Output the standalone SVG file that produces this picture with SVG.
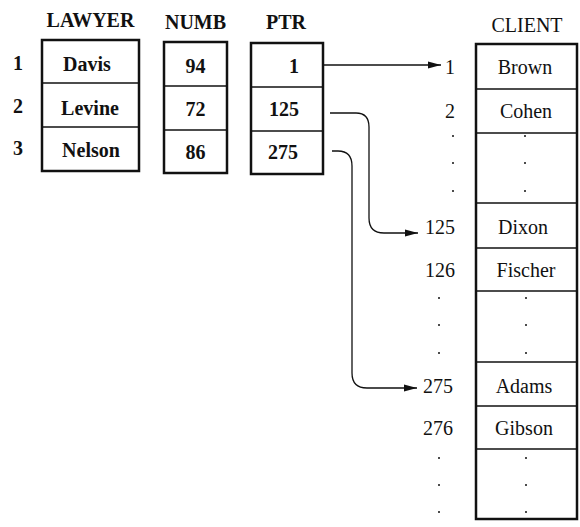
<svg xmlns="http://www.w3.org/2000/svg" width="580" height="527" viewBox="0 0 580 527">
<style>
text{font-family:"Liberation Serif","Times New Roman",serif;font-size:20px;fill:#111}
.b{font-weight:bold}
.m{text-anchor:middle}
.e{text-anchor:end}
.box{fill:#fff;stroke:#111;stroke-width:2.5}
.div{stroke:#111;stroke-width:1.5}
.con{fill:none;stroke:#111;stroke-width:1.3}
.dot{fill:#111}
</style>
<defs>
<marker id="ah" markerWidth="14" markerHeight="8" refX="13" refY="4" orient="auto" markerUnits="userSpaceOnUse">
<path d="M0,0.5 L13,4 L0,7.5 Z" fill="#111"/>
</marker>
</defs>
<rect width="580" height="527" fill="#fff"/>

<g id="lawyer">
<text class="b m" x="90.5" y="27">LAWYER</text>
<rect class="box" x="42" y="40" width="97" height="131"/>
<line class="div" x1="42" y1="83" x2="139" y2="83"/>
<line class="div" x1="42" y1="127" x2="139" y2="127"/>
<text class="b m" x="87" y="71">Davis</text>
<text class="b m" x="90" y="115">Levine</text>
<text class="b m" x="91" y="157">Nelson</text>
<text class="b" x="13" y="70">1</text>
<text class="b" x="13" y="113">2</text>
<text class="b" x="13" y="155">3</text>
</g>

<g id="numb">
<text class="b m" x="195.5" y="29">NUMB</text>
<rect class="box" x="164" y="42" width="63" height="131"/>
<line class="div" x1="164" y1="86" x2="227" y2="86"/>
<line class="div" x1="164" y1="130" x2="227" y2="130"/>
<text class="b m" x="195.5" y="73">94</text>
<text class="b m" x="195.5" y="116">72</text>
<text class="b m" x="195.5" y="159">86</text>
</g>

<g id="ptr">
<text class="b m" x="286" y="29">PTR</text>
<rect class="box" x="251" y="43" width="72" height="131"/>
<line class="div" x1="251" y1="87" x2="323" y2="87"/>
<line class="div" x1="251" y1="131" x2="323" y2="131"/>
<text class="b e" x="299" y="73">1</text>
<text class="b e" x="299" y="116">125</text>
<text class="b e" x="298" y="159">275</text>
</g>

<g id="client">
<text class="m" x="527" y="32">CLIENT</text>
<rect class="box" x="476" y="44" width="101" height="475"/>
<line class="div" x1="476" y1="89" x2="577" y2="89"/>
<line class="div" x1="476" y1="133" x2="577" y2="133"/>
<line class="div" x1="476" y1="203" x2="577" y2="203"/>
<line class="div" x1="476" y1="248" x2="577" y2="248"/>
<line class="div" x1="476" y1="291" x2="577" y2="291"/>
<line class="div" x1="476" y1="362" x2="577" y2="362"/>
<line class="div" x1="476" y1="406" x2="577" y2="406"/>
<line class="div" x1="476" y1="449" x2="577" y2="449"/>
<text class="m" x="525" y="74">Brown</text>
<text class="m" x="526" y="118">Cohen</text>
<text class="m" x="523" y="234">Dixon</text>
<text class="m" x="526" y="277">Fischer</text>
<text class="m" x="524" y="393">Adams</text>
<text class="m" x="524" y="435">Gibson</text>
<text class="e" x="455" y="74">1</text>
<text class="e" x="455" y="118">2</text>
<text class="e" x="455" y="234">125</text>
<text class="e" x="455" y="277">126</text>
<text class="e" x="453" y="393">275</text>
<text class="e" x="453" y="435">276</text>
<g class="dot">
<circle cx="453" cy="136" r="1"/><circle cx="453" cy="163" r="1"/><circle cx="453" cy="191" r="1"/>
<circle cx="525" cy="136" r="1"/><circle cx="525" cy="163" r="1"/><circle cx="525" cy="191" r="1"/>
<circle cx="439" cy="298" r="1"/><circle cx="439" cy="325" r="1"/><circle cx="439" cy="353" r="1"/>
<circle cx="526" cy="298" r="1"/><circle cx="526" cy="325" r="1"/><circle cx="526" cy="353" r="1"/>
<circle cx="439" cy="458" r="1"/><circle cx="439" cy="485" r="1"/><circle cx="439" cy="512" r="1"/>
<circle cx="526" cy="458" r="1"/><circle cx="526" cy="485" r="1"/><circle cx="526" cy="512" r="1"/>
</g>
</g>

<g id="connectors">
<path class="con" d="M323,65 H441" marker-end="url(#ah)"/>
<path class="con" d="M330,113 H356 Q369,113 369,127 V218 Q369,233 384,233 H418" marker-end="url(#ah)"/>
<path class="con" d="M332,151 H338 Q352,151 352,166 V373 Q352,388 367,388 H417" marker-end="url(#ah)"/>
</g>
</svg>
